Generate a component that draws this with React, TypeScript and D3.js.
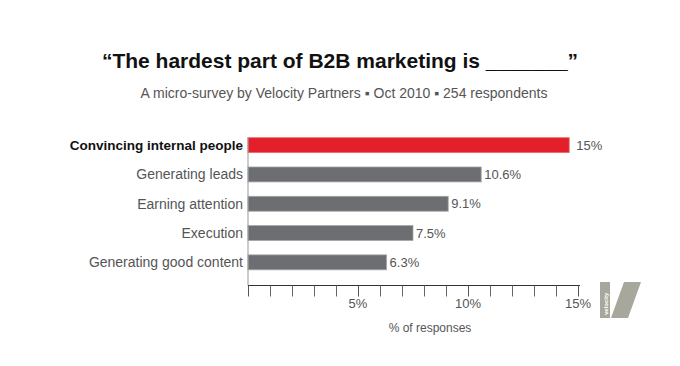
import React, { useRef, useEffect } from 'react';
import { select, scaleLinear, scaleBand, range } from 'd3';

// survey answers, top to bottom
const categories = [
  'Convincing internal people',
  'Generating leads',
  'Earning attention',
  'Execution',
  'Generating good content',
];
const values = [14.6, 10.6, 9.1, 7.5, 6.3];
const valueLabels = ['15%', '10.6%', '9.1%', '7.5%', '6.3%'];
const tickValues = range(0, 16);
const tickLabels = ['5%', '10%', '15%'];

const FONT = '"Liberation Sans", Arial, Helvetica, sans-serif';

const App = () => {
  const ref = useRef<SVGSVGElement>(null);

  useEffect(() => {
    const svg = select(ref.current);
    svg.selectAll('*').remove();

    const x = scaleLinear().domain([0, 15]).range([248, 578]);
    const y = scaleBand<string>()
      .domain(categories)
      .range([130.5, 277])
      .paddingInner(0.49)
      .paddingOuter(0.245);

    // title block
    svg.append('text')
      .attr('x', 340).attr('y', 68)
      .attr('text-anchor', 'middle')
      .attr('font-family', FONT)
      .attr('font-weight', 'bold')
      .attr('font-size', 21)
      .attr('fill', '#111')
      .text('\u201cThe hardest part of B2B marketing is _______\u201d');

    svg.append('text')
      .attr('x', 344).attr('y', 98)
      .attr('text-anchor', 'middle')
      .attr('font-family', FONT)
      .attr('font-size', 14)
      .attr('fill', '#555')
      .text('A micro-survey by Velocity Partners \u25aa Oct 2010 \u25aa 254 respondents');

    // bars
    svg.append('g')
      .selectAll('rect')
      .data(values)
      .enter()
      .append('rect')
      .attr('x', x(0))
      .attr('y', (d, i) => y(categories[i]) as number)
      .attr('width', d => x(d) - x(0))
      .attr('height', y.bandwidth())
      .attr('fill', (d, i) => (i === 0 ? '#e3202a' : '#6d6e71'))
      .attr('stroke', (d, i) => (i === 0 ? '#ec6a6f' : '#a6a7a9'))
      .attr('stroke-width', 0.8);

    // category labels
    svg.append('g')
      .selectAll('text')
      .data(categories)
      .enter()
      .append('text')
      .attr('x', 243)
      .attr('y', d => (y(d) as number) + y.bandwidth() / 2 + 5)
      .attr('text-anchor', 'end')
      .attr('font-family', FONT)
      .attr('font-size', (d, i) => (i === 0 ? 13.5 : 14))
      .attr('font-weight', (d, i) => (i === 0 ? 'bold' : 'normal'))
      .attr('fill', (d, i) => (i === 0 ? '#111' : '#555'))
      .text(d => d);

    // value labels
    svg.append('g')
      .selectAll('text')
      .data(values)
      .enter()
      .append('text')
      .attr('x', (d, i) => x(d) + (i === 0 ? 7 : 3))
      .attr('y', (d, i) => (y(categories[i]) as number) + y.bandwidth() / 2 + 4.5)
      .attr('font-family', FONT)
      .attr('font-size', 13)
      .attr('fill', '#555')
      .text((d, i) => valueLabels[i]);

    // axes
    const axisY = 285.5;
    svg.append('line')
      .attr('x1', x(0)).attr('x2', x(0))
      .attr('y1', 137).attr('y2', axisY)
      .attr('stroke', '#999').attr('stroke-width', 1);

    svg.append('line')
      .attr('x1', x(0)).attr('x2', x(15) + 2)
      .attr('y1', axisY).attr('y2', axisY)
      .attr('stroke', '#333').attr('stroke-width', 1);

    svg.append('g')
      .selectAll('line')
      .data(tickValues)
      .enter()
      .append('line')
      .attr('x1', d => Math.round(x(d)) + 0.5)
      .attr('x2', d => Math.round(x(d)) + 0.5)
      .attr('y1', axisY)
      .attr('y2', axisY + 11)
      .attr('stroke', d => (d % 5 === 0 ? '#555' : '#666'))
      .attr('stroke-width', 1);

    svg.append('g')
      .selectAll('text')
      .data(tickLabels)
      .enter()
      .append('text')
      .attr('x', (d, i) => x((i + 1) * 5))
      .attr('y', 308)
      .attr('text-anchor', 'middle')
      .attr('font-family', FONT)
      .attr('font-size', 13)
      .attr('fill', '#555')
      .text(d => d);

    svg.append('text')
      .attr('x', 430).attr('y', 332)
      .attr('text-anchor', 'middle')
      .attr('font-family', FONT)
      .attr('font-size', 12)
      .attr('fill', '#555')
      .text('% of responses');

    // velocity logo
    const logo = svg.append('g').attr('fill', '#a7a79c');
    logo.append('rect')
      .attr('x', 600).attr('y', 282)
      .attr('width', 10).attr('height', 36);
    logo.append('path')
      .attr('d', 'M611,318 L624,282 L641,282 L628,318 Z');
    logo.append('text')
      .attr('transform', 'translate(607.5,315) rotate(-90)')
      .attr('font-family', FONT)
      .attr('font-size', 6)
      .attr('font-weight', 'bold')
      .attr('fill', '#fff')
      .text('velocity');
  }, []);

  return (
    <div className="chart">
      <svg
        ref={ref}
        width={680}
        height={366}
        style={{ position: 'absolute', left: 0, top: 0, background: '#fff' }}
      ></svg>
    </div>
  );
};

export default App;
